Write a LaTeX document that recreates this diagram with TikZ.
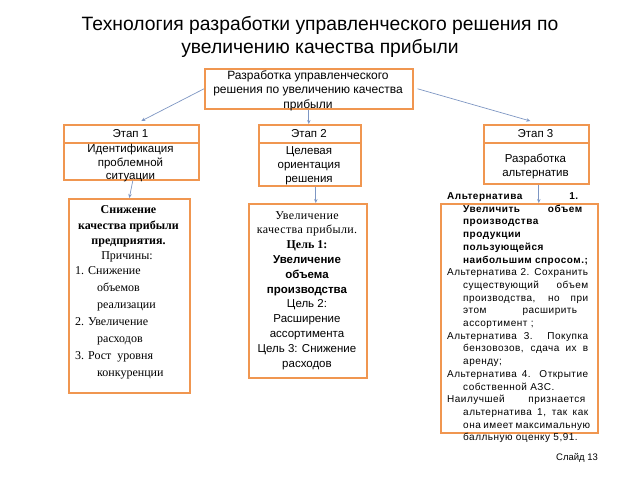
\documentclass[tikz,border=0pt]{standalone}
\usepackage{fontspec}
\setmainfont{Liberation Sans}
\newfontfamily\serifR{Liberation Serif}
\usetikzlibrary{arrows.meta}
\definecolor{obord}{RGB}{240,150,80}
\definecolor{conncol}{RGB}{125,150,195}
\newcommand\putline[5]{\node[anchor=base,inner sep=0pt,font=#4] (#1) at (#2,#3) {#5};}
\newcommand\putleft[5]{\node[anchor=base west,inner sep=0pt,font=#4] (#1) at (#2,#3) {#5};}
\newcommand\putjust[6]{\node[anchor=base west,inner sep=0pt,font=#5] (#1) at (#2,#3) {\makebox[#4pt][s]{#6}};}
\begin{document}
\begin{tikzpicture}[x=1pt,y=-1pt,
  box/.style={draw=obord,line width=1.6pt,fill=white,inner sep=0pt,anchor=north west},
  link/.style={draw=conncol,line width=0.7pt,-{Stealth[length=4pt,width=3.5pt]}}]
\useasboundingbox (0,0) rectangle (640,480);
\fill[white] (0,0) rectangle (640,480);
\def\fT{\fontsize{19.3}{23}\selectfont}
\def\fS{\fontsize{11.5}{14}\selectfont}
\def\fSt{\fontsize{12}{14}\selectfont}
\def\fSb{\bfseries\fontsize{11.5}{14}\selectfont}
\def\fR{\serifR\fontsize{12}{15}\selectfont}
\def\fRb{\serifR\bfseries\fontsize{12}{15}\selectfont}
\def\fRs{\serifR\fontsize{12}{14}\selectfont\addfontfeature{LetterSpace=3}}
\def\fRsb{\serifR\bfseries\fontsize{12}{14}\selectfont}
\def\fA{\fontsize{10}{12.7}\selectfont\addfontfeature{LetterSpace=5}}
\def\fAb{\bfseries\fontsize{10}{12.7}\selectfont\addfontfeature{LetterSpace=5}}

% title
\putline{t1}{320}{30}{\fT}{Технология разработки управленческого решения по}
\putline{t2}{320}{53}{\fT}{увеличению качества прибыли}

% boxes
\node[box,minimum width=208pt,minimum height=40pt] (top) at (204,68) {};
\node[box,minimum width=135pt,minimum height=18pt] (h1) at (63,124) {};
\node[box,minimum width=135pt,minimum height=37pt] (b1) at (63,142) {};
\node[box,minimum width=102pt,minimum height=18pt] (h2) at (258,124) {};
\node[box,minimum width=102pt,minimum height=43pt] (b2) at (258,142) {};
\node[box,minimum width=105pt,minimum height=18pt] (h3) at (483,124) {};
\node[box,minimum width=105pt,minimum height=41pt] (b3) at (483,142) {};
\node[box,minimum width=121pt,minimum height=194pt] (bx1) at (68,198) {};
\node[box,minimum width=118pt,minimum height=174pt] (bx2) at (248,203) {};
\node[box,minimum width=157pt,minimum height=229pt] (bx3) at (440,203) {};

% connectors
\draw[link] (top.west) -- ([xshift=10pt,yshift=3pt]h1.north);
\draw[link] ([xshift=4pt]top.east) -- ([xshift=-6pt,yshift=3pt]h3.north);
\draw[link] (top.south) -- (top.south |- h2.north);
\draw[link] ([xshift=1.5pt]b1.south) -- (bx1.north);
\draw[link] ([xshift=6pt]b2.south) -- ([xshift=6pt]b2.south |- bx2.north);
\draw[link] ([xshift=2.5pt]b3.south) -- ([xshift=2.5pt]b3.south |- bx3.north);

% top text
\putline{tp1}{308}{79}{\fSt}{Разработка управленческого}
\putline{tp2}{308}{93.5}{\fSt}{решения по увеличению качества}
\putline{tp3}{308}{108}{\fSt}{прибыли}

% stage texts
\putline{e1}{130.5}{137}{\fS}{Этап 1}
\putline{e1a}{130.5}{152}{\fS}{Идентификация}
\putline{e1b}{130.5}{166}{\fS}{проблемной}
\putline{e1c}{130.5}{179}{\fS}{ситуации}
\putline{e2}{309}{137}{\fS}{Этап 2}
\putline{e2a}{309}{154}{\fS}{Целевая}
\putline{e2b}{309}{168}{\fS}{ориентация}
\putline{e2c}{309}{182}{\fS}{решения}
\putline{e3}{535.5}{137}{\fS}{Этап 3}
\putline{e3a}{535.5}{162}{\fS}{Разработка}
\putline{e3b}{535.5}{176}{\fS}{альтернатив}

% box 1
\putline{x1a}{128.5}{213}{\fRb}{Снижение}
\putline{x1b}{128.5}{229}{\fRb}{качества прибыли}
\putline{x1c}{128.5}{244}{\fRb}{предприятия.}
\putline{x1d}{127}{259}{\fR}{Причины:}
\putleft{x1e}{75}{274}{\fR}{1. Снижение}
\putleft{x1f}{97}{291.1}{\fR}{объемов}
\putleft{x1g}{97}{308.2}{\fR}{реализации}
\putleft{x1h}{75}{325.3}{\fR}{2. Увеличение}
\putleft{x1i}{97}{342.4}{\fR}{расходов}
\putleft{x1j}{75}{359.5}{\fR}{3. Рост\ \ уровня}
\putleft{x1k}{97}{376.6}{\fR}{конкуренции}

% box 2
\putline{x2a}{307}{219}{\fRs}{Увеличение}
\putline{x2b}{307}{233.8}{\fRs}{качества прибыли.}
\putline{x2c}{307}{248.6}{\fRsb}{Цель 1:}
\putline{x2d}{307}{263.4}{\fSb}{Увеличение}
\putline{x2e}{307}{278.2}{\fSb}{объема}
\putline{x2f}{307}{293}{\fSb}{производства}
\putline{x2g}{307}{307.8}{\fS}{Цель 2:}
\putline{x2h}{307}{322.6}{\fS}{Расширение}
\putline{x2i}{307}{337.4}{\fS}{ассортимента}
\putline{x2j}{307}{352.2}{\fS}{Цель 3: Снижение}
\putline{x2k}{307}{367}{\fS}{расходов}

% box 3
\putjust{y1}{447}{199.5}{131}{\fAb}{Альтернатива 1.}
\putjust{y2}{463}{212.2}{119}{\fAb}{Увеличить объем}
\putleft{y3}{463}{224.9}{\fAb}{производства}
\putleft{y4}{463}{237.6}{\fAb}{продукции}
\putleft{y5}{463}{250.3}{\fAb}{пользующейся}
\putleft{y6}{463}{263}{\fAb}{наибольшим спросом.;}
\putjust{y7}{447}{275.7}{141}{\fA}{Альтернатива 2. Сохранить}
\putjust{y8}{463}{288.4}{125}{\fA}{существующий объем}
\putjust{y9}{463}{301.1}{125}{\fA}{производства, но при}
\putjust{y10}{463}{313.8}{114}{\fA}{этом расширить}
\putleft{y11}{463}{326.5}{\fA}{ассортимент ;}
\putjust{y12}{447}{339.2}{141}{\fA}{Альтернатива 3. Покупка}
\putjust{y13}{463}{351.9}{125}{\fA}{бензовозов, сдача их в}
\putleft{y14}{463}{364.6}{\fA}{аренду;}
\putjust{y15}{447}{377.3}{141}{\fA}{Альтернатива 4. Открытие}
\putleft{y16}{463}{390}{\fA}{собственной АЗС.}
\putjust{y17}{447}{402.7}{138}{\fA}{Наилучшей признается}
\putjust{y18}{463}{415.4}{125}{\fA}{альтернатива 1, так как}
\putjust{y19}{463}{428.1}{127}{\fA}{она имеет максимальную}
\putleft{y20}{463}{440.8}{\fA}{балльную оценку 5,91.}

% slide number
\putleft{sl}{556}{460}{\fontsize{9.5}{11}\selectfont}{Слайд\ 13}
\end{tikzpicture}
\end{document}
